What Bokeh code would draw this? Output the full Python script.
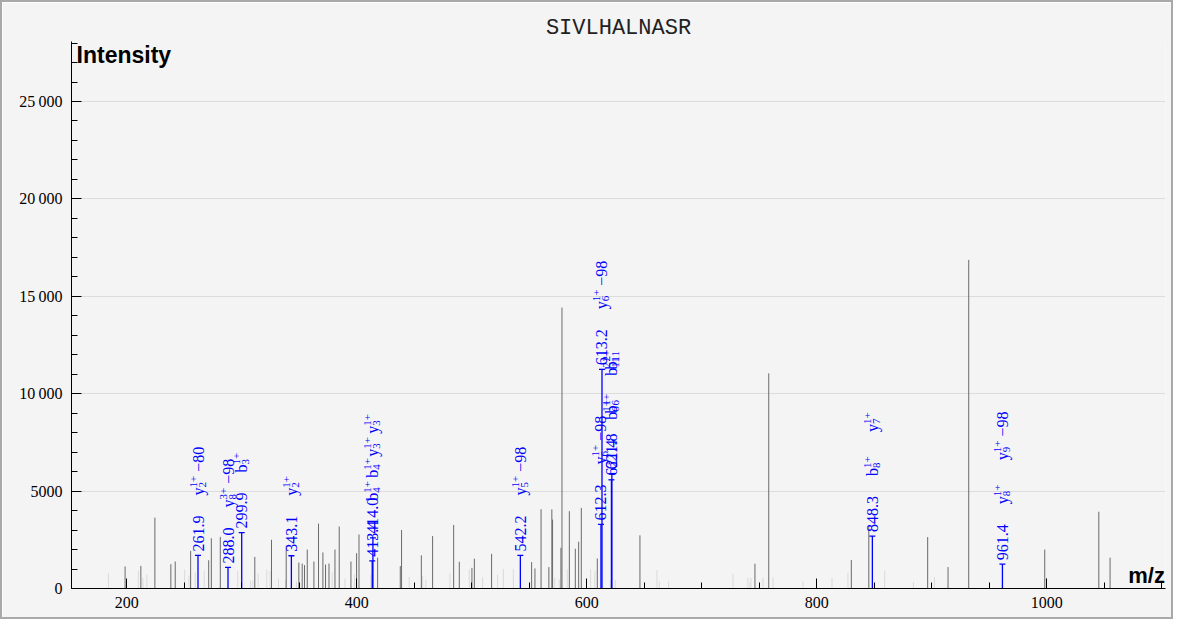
import math
from bokeh.plotting import figure
from bokeh.models import (Range1d, SingleIntervalTicker, CustomJSTickFormatter,
                          ColumnDataSource, Label)
from bokeh.embed import file_html
from bokeh.resources import INLINE
from bokeh.core.properties import value

# ---------------- data ----------------
title_text = "SIVLHALNASR"
x_label = "m/z"
y_label = "Intensity"

# faint (unassigned, low) peaks
noise_mz = [184.0, 210.0, 214.0, 217.4, 250.3, 254.0, 259.5, 267.3, 296.4, 307.5,
            309.5, 314.2, 321.7, 324.6, 331.9, 338.0, 347.5, 378.6, 389.7, 398.0,
            412.2, 445.6, 457.2, 460.0, 481.0, 497.8, 509.4, 522.4, 527.4, 536.1,
            572.0, 576.0, 583.0, 603.3, 607.0, 620.4, 624.8, 661.0, 663.0, 671.2,
            727.1, 740.1, 741.9, 742.7, 753.2, 761.9, 788.0, 813.2, 827.1, 859.0,
            884.0, 902.2]
noise_int = [770, 920, 550, 700, 970, 660, 820, 940, 900, 410,
             410, 770, 970, 900, 510, 430, 340, 820, 510, 700,
             690, 590, 640, 460, 800, 980, 590, 720, 1010, 1010,
             550, 460, 980, 980, 890, 430, 430, 945, 380, 380,
             755, 550, 345, 550, 550, 585, 380, 550, 805, 925,
             330, 585]

# unassigned peaks
peak_mz = [198.5, 212.2, 224.4, 238.3, 242.1, 255.5, 271.2, 273.5, 281.3, 311.3,
           325.8, 338.6, 349.6, 352.5, 354.5, 356.9, 362.7, 366.7, 370.5, 372.8,
           375.8, 381.0, 384.7, 394.9, 399.8, 401.9, 418.1, 437.8, 438.9, 456.1,
           465.9, 484.2, 489.1, 500.1, 502.2, 517.2, 552.0, 554.9, 560.2, 567.0,
           569.6, 570.2, 577.5, 578.4, 584.8, 590.0, 592.9, 595.2, 609.1, 646.2,
           746.2, 758.2, 830.0, 845.2, 896.4, 914.1, 932.1, 998.2, 999.7, 1045.2,
           1055.0]
peak_int = [1130, 1160, 3640, 1250, 1385, 1930, 1450, 2580, 2650, 1620,
            2500, 2200, 1330, 1280, 1200, 2000, 1385, 3330, 1850, 1230,
            1280, 2000, 3180, 1385, 1810, 2770, 1580, 1150, 3000, 1700,
            2690, 3260, 1370, 1060, 1530, 1780, 1355, 1030, 4070, 1100,
            4060, 3540, 2090, 14420, 3970, 2040, 2400, 4140, 1540, 2730,
            1270, 11045, 1460, 3220, 2640, 1100, 16870, 2000, 510, 3940,
            1580]

# assigned peaks and their fragment ions (ion, subscript, charge, neutral loss)
match_mz = [261.9, 288.0, 299.9, 343.1, 413.4, 414.0, 542.2, 612.3, 613.2,
            621.4, 621.8, 848.3, 961.4]
match_int = [1700, 1080, 2870, 1680, 1420, 2600, 1700, 3290, 11250,
             5580, 5900, 2690, 1250]
match_ions = [
    [("y", "2", "1+", "\u221280")],
    [("y", "8", "3+", "\u221298")],
    [("b", "3", "1+", "")],
    [("y", "2", "1+", "")],
    [("b", "4", "1+", ""), ("y", "3", "1+", "")],
    [("b", "4", "1+", ""), ("y", "3", "1+", "")],
    [("y", "5", "1+", "\u221298")],
    [("y", "6", "1+", "\u221298")],
    [("y", "6", "1+", "\u221298")],
    [("b", "6", "1+", ""), ("b", "11", "2+", "")],
    [("b", "6", "1+", ""), ("b", "11", "2+", "")],
    [("b", "8", "1+", ""), ("y", "7", "1+", "")],
    [("y", "8", "1+", ""), ("y", "9", "1+", "\u221298")],
]

x_start, x_end = 151.9, 1103.2
y_start, y_end = 0, 28080

# ---------------- figure ----------------
BG = "#f4f4f4"
p = figure(width=1173, height=619, x_range=Range1d(x_start, x_end),
           y_range=Range1d(y_start, y_end), output_backend="svg",
           toolbar_location=None, min_border_left=69, min_border_right=10,
           min_border_top=39, min_border_bottom=33,
           background_fill_color=BG, border_fill_color=BG, outline_line_color=None)
p.styles = {"border": "2px solid #a9a9a9"}

p.title.text = title_text
p.title.align = "center"
p.title.text_font = "Liberation Mono"
p.title.text_font_style = "normal"
p.title.text_font_size = "22px"
p.title.text_color = "#222222"
p.title.standoff = 2

# axes
p.xaxis.ticker = SingleIntervalTicker(interval=200, num_minor_ticks=4)
p.yaxis.ticker = SingleIntervalTicker(interval=5000, num_minor_ticks=5)
p.yaxis.formatter = CustomJSTickFormatter(code="""
const s = Math.round(tick).toString();
return s.length > 4 ? s.slice(0, -3) + '\\u2009' + s.slice(-3) : s;
""")
for ax in (p.xaxis[0], p.yaxis[0]):
    ax.major_tick_in = 10
    ax.major_tick_out = 0
    ax.minor_tick_in = 6
    ax.minor_tick_out = 0
    ax.axis_line_color = "black"
    ax.major_tick_line_color = "black"
    ax.minor_tick_line_color = "black"
    ax.major_label_text_font = "Liberation Serif"
    ax.major_label_text_font_size = "16px"
    ax.major_label_text_color = "black"
p.xaxis.major_label_standoff = 8
p.yaxis.major_label_standoff = 9

p.xgrid.visible = False
p.ygrid.grid_line_color = "#dcdcdc"
p.ygrid.grid_line_width = 1

# peaks
p.segment(x0=noise_mz, y0=[0] * len(noise_mz), x1=noise_mz, y1=noise_int,
          line_color="#dadada", line_width=1)
p.segment(x0=peak_mz, y0=[0] * len(peak_mz), x1=peak_mz, y1=peak_int,
          line_color="#6a6a6a", line_width=1)
p.segment(x0=match_mz, y0=[0] * len(match_mz), x1=match_mz, y1=match_int,
          line_color="blue", line_width=1.3)
p.scatter(x=match_mz, y=match_int, marker="dash", size=6, line_color="blue",
          line_width=1.3)

# annotation labels (rotated)
def w_small(s):
    return sum(6.2 if c == "+" else 5.5 for c in s)

main = dict(x=[], y=[], t=[], xo=[], yo=[])
small = dict(x=[], y=[], t=[], xo=[], yo=[])

def add(d, x, y, t, xo, yo):
    d["x"].append(x); d["y"].append(y); d["t"].append(t)
    d["xo"].append(xo); d["yo"].append(yo)

for mz, inten, ions in zip(match_mz, match_int, match_ions):
    add(main, mz, inten, f"{mz:.1f}", 0, -4)
    for k, (base, sub, sup, suf) in enumerate(ions):
        d = 60 + 44 * k
        wb = 8
        add(main, mz, inten, base, 0, -d)
        add(small, mz, inten, sup, -5, -(d + wb))
        add(small, mz, inten, sub, 4, -(d + wb))
        if suf:
            ws = max(w_small(sub), w_small(sup))
            add(main, mz, inten, suf, 0, -(d + wb + ws + 4))

p.text(x="x", y="y", text="t", x_offset="xo", y_offset="yo",
       source=ColumnDataSource(main), angle=math.pi / 2,
       text_font=value("Liberation Serif"), text_font_size=value("16px"),
       text_color="blue", text_align="left", text_baseline="middle")
p.text(x="x", y="y", text="t", x_offset="xo", y_offset="yo",
       source=ColumnDataSource(small), angle=math.pi / 2,
       text_font=value("Liberation Serif"), text_font_size=value("11px"),
       text_color="blue", text_align="left", text_baseline="middle")

# axis titles inside the frame
p.add_layout(Label(x=x_start + 4.4, y=y_end - 700, text=y_label,
                   text_font="Liberation Sans", text_font_style="bold",
                   text_font_size="23px", text_baseline="middle",
                   text_align="left", text_color="black"))
p.add_layout(Label(x=x_end - 0.5, y=650, text=x_label,
                   text_font="Liberation Sans", text_font_style="bold",
                   text_font_size="22px", text_baseline="middle",
                   text_align="right", text_color="black"))

open("out.html", "w").write(file_html(p, INLINE))
